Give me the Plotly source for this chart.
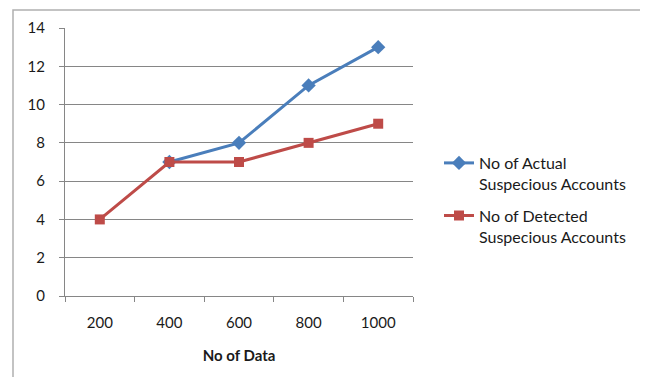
import plotly.graph_objects as go

categories = ["200", "400", "600", "800", "1000"]
actual = [None, 7, 8, 11, 13]
detected = [4, 7, 7, 8, 9]
y_ticks = [0, 2, 4, 6, 8, 10, 12, 14]

FONT = "Lato, Open Sans, sans-serif"

fig = go.Figure()
fig.add_trace(go.Scatter(
    x=categories, y=actual, mode="lines+markers",
    name="No of Actual<br>Suspecious Accounts", legendgroup="a",
    line=dict(color="#4A7EBB", width=3),
    marker=dict(symbol="diamond", size=11, color="#4A7EBB"),
))
fig.add_trace(go.Scatter(
    x=categories, y=detected, mode="lines+markers",
    name="No of Detected<br>Suspecious Accounts", legendgroup="b",
    line=dict(color="#BE4B48", width=3),
    marker=dict(symbol="square", size=10, color="#BE4B48"),
))

# page has an 8px body margin; figure coords = reference coords - 8
OFF = 8
W, H = 640, 369
L = 65 - OFF
Rr = 413 - OFF
T = 28 - OFF
Bt = 296 - OFF
pw = Rr - L
ph = Bt - T

fig.update_layout(
    width=W, height=H,
    margin=dict(l=L, r=W - Rr, t=T, b=H - Bt),
    paper_bgcolor="white", plot_bgcolor="white",
    font=dict(family=FONT, size=15, color="#1a1a1a"),
    showlegend=True,
    legend=dict(x=(439 - OFF - L) / pw, y=(Bt - (146 - OFF)) / ph,
                xanchor="left", yanchor="top", valign="top",
                traceorder="grouped",
                font=dict(size=16, family=FONT), tracegroupgap=8,
                itemwidth=30, bgcolor="rgba(0,0,0,0)"),
    xaxis=dict(type="category", tickson="boundaries", showgrid=False,
               showline=True, linecolor="#868686", linewidth=1,
               ticks="outside", ticklen=5, tickcolor="#868686",
               tickfont=dict(size=15), ticklabelstandoff=13, automargin=False,
               title=dict(text="<b>No of Data</b>", font=dict(size=15), standoff=20),
               range=[-0.5, 4.5], fixedrange=True),
    yaxis=dict(range=[0, 14], tickvals=y_ticks, showgrid=True, gridcolor="#868686",
               gridwidth=1, showline=True, linecolor="#868686", linewidth=1,
               ticks="outside", ticklen=5, tickcolor="#868686", automargin=False,
               tickfont=dict(size=15), zeroline=False, ticklabelstandoff=11),
)

fig.add_shape(type="rect", xref="paper", yref="paper",
              x0=(13 - OFF - L) / pw, x1=(645 - OFF - L) / pw,
              y0=(Bt - (395 - OFF)) / ph, y1=(Bt - (10 - OFF)) / ph,
              line=dict(color="#B0B0B0", width=1.5), fillcolor="rgba(0,0,0,0)", layer="below")

fig.write_html("out.html")
